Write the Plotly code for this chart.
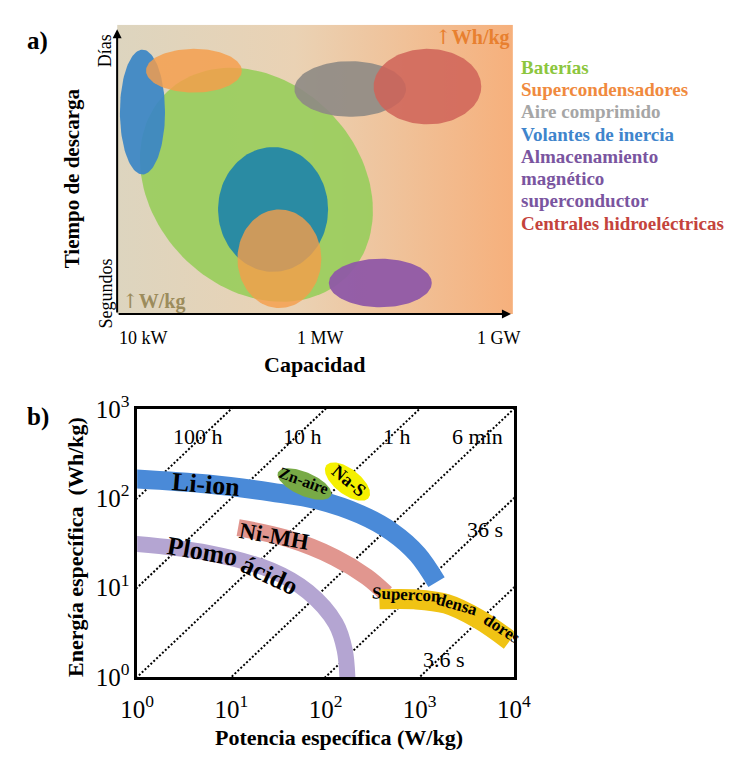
import numpy as np
import plotly.graph_objects as go

W, H = 734, 760
SERIF = "Liberation Serif, Times New Roman, serif"
ARROW = '<span style="font-family:DejaVu Serif;font-weight:normal">↑</span>'

# ---------------- Panel a) schematic data (isotropic schematic units) ----------------
a_xmax, a_ymax = 100.0, 72.77
a_tech = ["Baterías", "Volantes de inercia", "Volantes de inercia (2)", "Supercondensadores (2)",
          "Supercondensadores", "Almacenamiento magnético superconductor", "Aire comprimido",
          "Centrales hidroeléctricas"]
a_cx = [35.2, 6.4, 39.4, 41.0, 19.4, 66.5, 58.9, 78.4]
a_cy = [32.5, 50.8, 26.3, 13.9, 61.2, 7.8, 56.6, 57.2]
a_rx = [32.5, 5.7, 13.9, 10.6, 12.1, 13.0, 14.1, 13.6]
a_ry = [26.0, 15.7, 15.7, 12.4, 5.5, 6.1, 7.0, 9.5]
a_rot = [-45, 0, 0, 0, 0, 0, 0, 0]
a_fill = ["rgba(154,205,94,0.93)", "rgba(58,134,198,0.92)", "rgba(31,134,168,0.92)",
          "rgba(245,157,74,0.80)", "rgba(245,157,74,0.82)", "rgba(143,88,166,0.95)",
          "rgba(142,138,132,0.90)", "rgba(207,99,88,0.86)"]

cap_ticks = ["10 kW", "1 MW", "1 GW"]
cap_tick_pos = [6.75, 51.3, 96.6]

legend_text = ["Baterías", "Supercondensadores", "Aire comprimido", "Volantes de inercia",
               "Almacenamiento", "magnético", "superconductor", "Centrales hidroeléctricas"]
legend_color = ["#8cc63e", "#f08a3e", "#a6a6a6", "#3f85cc", "#7a55a0", "#7a55a0", "#7a55a0", "#c4433c"]

# ---------------- Panel b) Ragone data ----------------
t_hours = [100, 10, 1, 0.1, 0.01, 0.001]
t_labels = ["100 h", "10 h", "1 h", "6 min", "36 s", "3.6 s"]
t_label_P = [4.45, 56.5, 568, 4121, 4966, 1824]
t_label_E = [489, 489, 489, 489, 44.7, 1.56]

li_P = [0.9, 5.6, 26.6, 85, 234, 509, 949, 1510]
li_E = [165, 144, 117, 95, 66, 42, 23.5, 11.5]
ni_P = [11.8, 39, 126, 274, 440]
ni_E = [47, 35.5, 21.7, 13.2, 8.6]
pb_P = [0.9, 5.6, 26.6, 65, 128, 160, 172]
pb_E = [31, 24.5, 15.6, 9.0, 4.0, 2.0, 0.8]
sc_P = [373, 879, 1906, 4150, 9060]
sc_E = [7.4, 7.4, 6.6, 4.5, 2.55]

band_colors = {"li": "#4a8ad8", "ni": "#e1968f", "pb": "#b4a5d2", "sc": "#f0c314"}

# small chemistries as ellipses in log space: centre (log10 P, log10 E), semi-axes (decades), tilt
blob_names = ["Zn-aire", "Na-S"]
blob_lx = [1.777, 2.233]
blob_ly = [2.159, 2.186]
blob_a = [0.31, 0.29]
blob_b = [0.13, 0.14]
blob_rot = [-25, -40]
blob_col = ["#78aa46", "#f5f000"]


def ellipse(cx, cy, rx, ry, rot_deg, n=120):
    t = np.linspace(0, 2 * np.pi, n)
    x0, y0 = rx * np.cos(t), ry * np.sin(t)
    r = np.radians(rot_deg)
    return cx + x0 * np.cos(r) - y0 * np.sin(r), cy + x0 * np.sin(r) + y0 * np.cos(r)


def px(x):
    return x / W


def py(y):
    return 1 - y / H


fig = go.Figure()

# background gradient of panel a
fig.add_trace(go.Scatter(
    x=[0, a_xmax, a_xmax, 0, 0], y=[0, 0, a_ymax, a_ymax, 0], mode="lines",
    line=dict(width=0), fill="toself",
    fillgradient=dict(type="horizontal",
                      colorscale=[[0, "#ddd5bf"], [0.45, "#ead2b4"], [1, "#f6b07c"]]),
    hoverinfo="skip", showlegend=False, xaxis="x", yaxis="y"))

for i in range(len(a_tech)):
    ex, ey = ellipse(a_cx[i], a_cy[i], a_rx[i], a_ry[i], a_rot[i])
    fig.add_trace(go.Scatter(x=ex, y=ey, mode="lines", line=dict(width=0),
                             fill="toself", fillcolor=a_fill[i], name=a_tech[i],
                             showlegend=False, xaxis="x", yaxis="y"))

# panel b: constant-time dotted lines
for t in t_hours:
    P = np.array([1e-3, 1e5])
    fig.add_trace(go.Scatter(x=P, y=P * t, mode="lines",
                             line=dict(color="black", width=2, dash="2px,2px"),
                             showlegend=False, hoverinfo="skip", xaxis="x2", yaxis="y2"))

for P, E, key, wdt in [(pb_P, pb_E, "pb", 16), (ni_P, ni_E, "ni", 17),
                       (li_P, li_E, "li", 19), (sc_P, sc_E, "sc", 20)]:
    fig.add_trace(go.Scatter(x=P, y=E, mode="lines",
                             line=dict(color=band_colors[key], width=wdt, shape="spline", smoothing=1.0),
                             showlegend=False, xaxis="x2", yaxis="y2"))

for i in range(len(blob_names)):
    lx, ly = ellipse(blob_lx[i], blob_ly[i], blob_a[i], blob_b[i], blob_rot[i])
    fig.add_trace(go.Scatter(x=10 ** lx, y=10 ** ly, mode="lines", line=dict(width=0),
                             fill="toself", fillcolor=blob_col[i], showlegend=False,
                             xaxis="x2", yaxis="y2"))

ann = []


def note(x, y, text, size, color="black", xref="paper", yref="paper", angle=0, xanchor="center"):
    ann.append(dict(x=x, y=y, xref=xref, yref=yref, text=text, textangle=angle,
                    xanchor=xanchor, yanchor="middle", showarrow=False,
                    font=dict(family=SERIF, size=size, color=color)))


# panel a axes arrows
ann.append(dict(x=0, y=71.6, ax=0, ay=0, xref="x", yref="y", axref="x", ayref="y", text="",
                showarrow=True, arrowhead=2, arrowsize=0.9, arrowwidth=2, arrowcolor="black",
                standoff=0, startstandoff=0))
ann.append(dict(x=99.5, y=0, ax=0, ay=0, xref="x", yref="y", axref="x", ayref="y", text="",
                showarrow=True, arrowhead=2, arrowsize=0.9, arrowwidth=2, arrowcolor="black",
                standoff=0, startstandoff=0))
for lab, pos in zip(cap_ticks, cap_tick_pos):
    note(pos, py(334), lab, 18, xref="x")
note(px(312), py(362), "<b>Capacidad</b>", 22)
note(px(58), py(167), "<b>Tiempo de descarga</b>", 21, angle=-90)
note(px(92), py(34), "Días", 18, angle=-90)
note(px(93), py(288), "Segundos", 18, angle=-90)
note(px(478), py(20), ARROW + "<b>Wh/kg</b>", 20, color="#e8802f")
note(px(143), py(295), ARROW + "<b>W/kg</b>", 20, color="#9c8c5c")
note(px(22), py(24), "<b>a)</b>", 25)
note(px(22), py(417), "<b>b)</b>", 25)
for k, (txt, col) in enumerate(zip(legend_text, legend_color)):
    note(px(526), py(51.5 + 23.25 * k), "<b>%s</b>" % txt, 19, color=col, xanchor="left")

# panel b labels
for lab, P, E in zip(t_labels, t_label_P, t_label_E):
    note(np.log10(P), np.log10(E), lab, 22, xref="x2", yref="y2")

b_text = [("Li-ion", 0.732, 2.157, 5, 26), ("Ni-MH", 1.458, 1.568, 10, 23),
          ("Plomo", 0.689, 1.407, 10, 26), ("ácido", 1.408, 1.139, 25, 26),
          ("Zn-aire", 1.762, 2.193, 20, 16), ("Na-S", 2.251, 2.193, 40, 18),
          ("Supercon", 2.86, 0.925, 3, 17), ("densa", 3.395, 0.812, 16, 17),
          ("dores", 3.87, 0.54, 33, 17)]
for txt, lx, ly, ang, sz in b_text:
    note(lx, ly, "<b>%s</b>" % txt, sz, xref="x2", yref="y2", angle=ang)

note(px(338), py(751), "<b>Potencia específica (W/kg)</b>", 22)
note(px(62), py(552), "<b>Energía específica  (Wh/kg)</b>", 22, angle=-90)

pow_ticks = [1, 10, 100, 1000, 10000]
pow_text = ["10<sup>0</sup>", "10<sup>1</sup>", "10<sup>2</sup>", "10<sup>3</sup>", "10<sup>4</sup>"]
en_ticks = [1, 10, 100, 1000]
en_text = ["10<sup>0</sup>", "10<sup>1</sup>", "10<sup>2</sup>", "10<sup>3</sup>"]

fig.update_layout(
    width=W, height=H, margin=dict(l=0, r=0, t=0, b=0),
    paper_bgcolor="white", plot_bgcolor="rgba(0,0,0,0)", showlegend=False,
    xaxis=dict(domain=[px(105), px(520)], range=[0, a_xmax], anchor="y", visible=False),
    yaxis=dict(domain=[py(309), py(7)], range=[0, a_ymax], anchor="x", visible=False),
    xaxis2=dict(domain=[px(126), px(521)], type="log", range=[0, 4], anchor="y2",
                showline=True, mirror=True, linewidth=2.5, linecolor="black", showgrid=False,
                zeroline=False, ticks="", tickvals=pow_ticks, ticktext=pow_text,
                ticklabelstandoff=8,
                tickfont=dict(family=SERIF, size=25, color="black")),
    yaxis2=dict(domain=[py(688), py(408)], type="log", range=[0, 3], anchor="x2",
                showline=True, mirror=True, linewidth=2.5, linecolor="black", showgrid=False,
                zeroline=False, ticks="", tickvals=en_ticks, ticktext=en_text,
                tickfont=dict(family=SERIF, size=25, color="black")),
    annotations=ann,
)

fig.write_html("out.html")
